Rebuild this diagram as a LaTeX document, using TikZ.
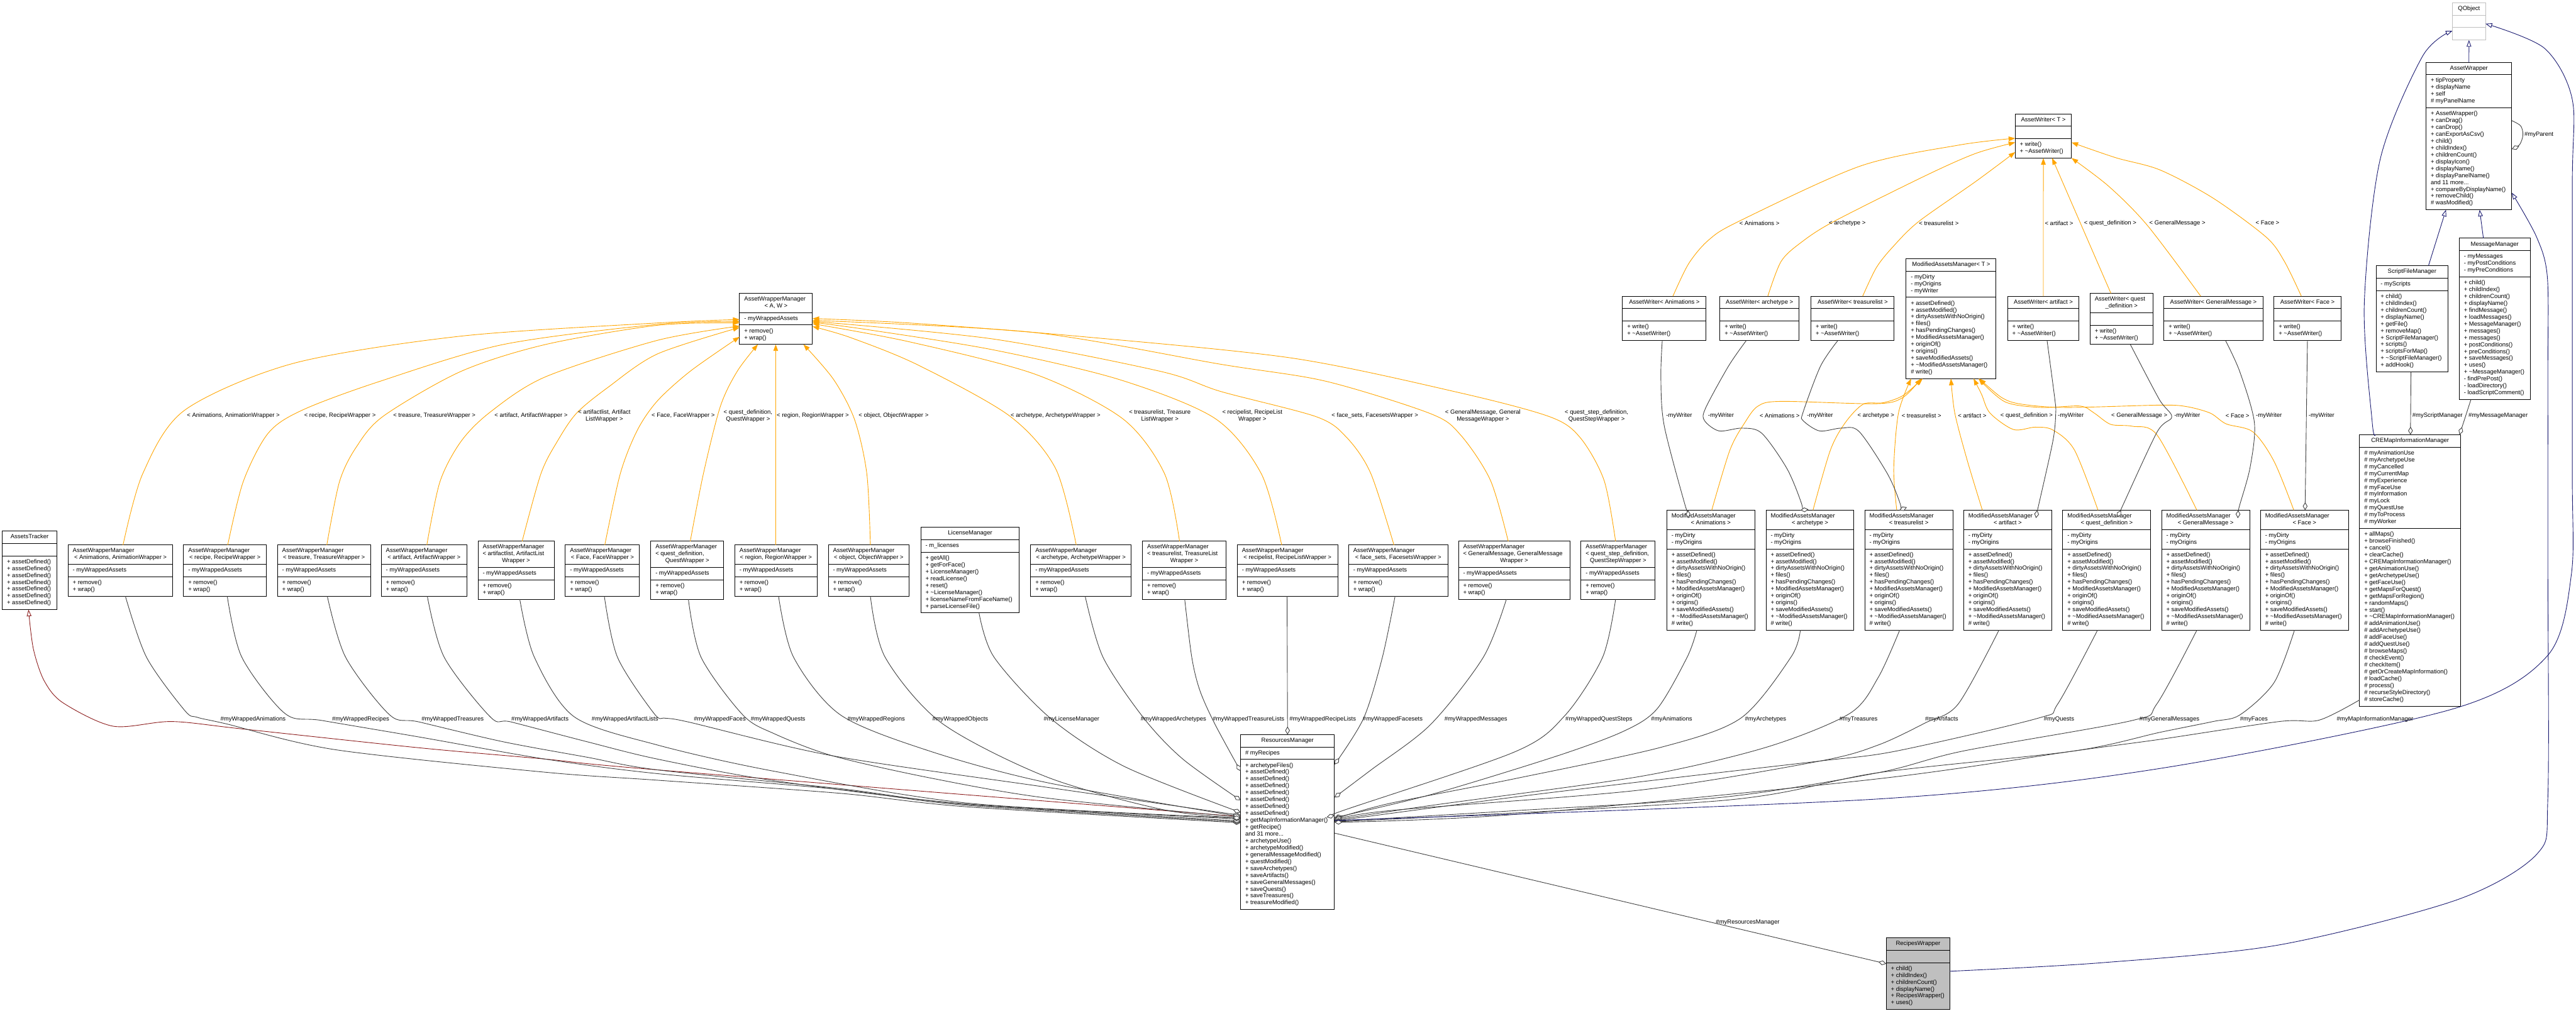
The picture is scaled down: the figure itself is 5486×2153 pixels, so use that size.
\documentclass[tikz,border=0pt]{standalone}
\usepackage{fontspec}
\setmainfont{Liberation Sans}
\usetikzlibrary{shapes.multipart,arrows.meta}
\definecolor{instorange}{HTML}{FFA500}
\definecolor{pubblue}{HTML}{191970}
\definecolor{protred}{HTML}{8B1A1A}
\definecolor{aggrgray}{HTML}{404040}
\definecolor{boxgray}{HTML}{BFBFBF}
\begin{document}
\begin{tikzpicture}[x=1pt,y=-1pt,
    umlbox/.style={draw=black,line width=1.3pt,rectangle split,rectangle split parts=3,
      inner xsep=10pt,inner ysep=5.3pt,outer sep=0pt,anchor=north west},
    extbox/.style={umlbox,draw=boxgray},
    focusbox/.style={umlbox,fill=boxgray},
    inst/.style={instorange,line width=1.2pt,-{Triangle[length=14pt,width=10pt]}},
    pub/.style={pubblue,line width=1.2pt,-{Triangle[open,length=14pt,width=10pt,fill=white]}},
    prot/.style={protred,line width=1.2pt,-{Triangle[open,length=14pt,width=10pt,fill=white]}},
    aggr/.style={aggrgray,line width=1.2pt,-{Diamond[open,length=17pt,width=10pt,fill=white]}},
    elabel/.style={font=\umlfont,inner sep=0pt,align=center}]
  \def\umlfont{\fontsize{12.75}{14.66}\selectfont}
  \def\headtxt{\umlfont\centering\leftskip=-10pt plus 1fil\rightskip=-10pt plus 1fil\relax\strut}
  \def\bodytxt{\umlfont\raggedright\rightskip=-10pt plus 1fil\relax\strut}
  \def\hl#1{\hspace*{10pt}#1\hfill\mbox{}\\}
  \def\tld{\textasciitilde}
  \def\umlclass#1#2#3#4#5#6#7#8{%
    \pgfmathsetmacro\boxw{#5-20}
    \node[#1,text width=\boxw pt] (#2) at (#3,#4)
      {\headtxt #6\strut\par\nodepart{two}\bodytxt #7\strut\par\nodepart{three}\bodytxt #8\strut\par};}
  \def\wrapclass#1#2#3#4#5{\umlclass{umlbox}{#1}{#2}{#3}{#4}{#5}{- myWrappedAssets}{+ remove()\\+ wrap()}}
  \def\writerclass#1#2#3#4#5{\umlclass{umlbox}{#1}{#2}{#3}{#4}{#5}{}{+ write()\\+ \tld AssetWriter()}}
  \def\modmethods{+ assetDefined()\\+ assetModified()\\+ dirtyAssetsWithNoOrigin()\\+ files()\\+ hasPendingChanges()\\+ ModifiedAssetsManager()\\+ originOf()\\+ origins()\\+ saveModifiedAssets()\\+ \tld ModifiedAssetsManager()\\\# write()}
  \def\modclass#1#2#3{\umlclass{umlbox}{#1}{#2}{1086.8}{187.3}{\hl{ModifiedAssetsManager}< #3 >}{- myDirty\\- myOrigins}{\modmethods}}
  \useasboundingbox (0,0) rectangle (5486,2153);

  % classes, left to right
  \umlclass{umlbox}{tracker}{5}{1131}{116}{AssetsTracker}{}{+ assetDefined()\\+ assetDefined()\\+ assetDefined()\\+ assetDefined()\\+ assetDefined()\\+ assetDefined()\\+ assetDefined()}
  \wrapclass{awm}{1575}{624.6}{155.4}{\hl{AssetWrapperManager}< A, W >}
  \wrapclass{awmAnim}{145}{1161}{223}{\hl{AssetWrapperManager}< Animations, AnimationWrapper >}
  \wrapclass{awmRec}{391}{1161}{176}{\hl{AssetWrapperManager}< recipe, RecipeWrapper >}
  \wrapclass{awmTrea}{591}{1161}{198}{\hl{AssetWrapperManager}< treasure, TreasureWrapper >}
  \wrapclass{awmArt}{812}{1161}{182}{\hl{AssetWrapperManager}< artifact, ArtifactWrapper >}
  \wrapclass{awmArtl}{1018}{1153}{162}{\hl{AssetWrapperManager}\hl{< artifactlist, ArtifactList}Wrapper >}
  \wrapclass{awmFace}{1204}{1161}{158}{\hl{AssetWrapperManager}< Face, FaceWrapper >}
  \wrapclass{awmQdef}{1386}{1153}{155}{\hl{AssetWrapperManager}\hl{< quest\_definition,}QuestWrapper >}
  \wrapclass{awmReg}{1565}{1161}{175}{\hl{AssetWrapperManager}< region, RegionWrapper >}
  \wrapclass{awmObj}{1764}{1161}{172}{\hl{AssetWrapperManager}< object, ObjectWrapper >}
  \umlclass{umlbox}{lic}{1961}{1123.5}{210}{LicenseManager}{- m\_licenses}{+ getAll()\\+ getForFace()\\+ LicenseManager()\\+ readLicense()\\+ reset()\\+ \tld LicenseManager()\\+ licenseNameFromFaceName()\\+ parseLicenseFile()}
  \wrapclass{awmArch}{2195}{1161}{214}{\hl{AssetWrapperManager}< archetype, ArchetypeWrapper >}
  \wrapclass{awmTlist}{2433}{1153}{178}{\hl{AssetWrapperManager}\hl{< treasurelist, TreasureList}Wrapper >}
  \wrapclass{awmRlist}{2635}{1161}{214}{\hl{AssetWrapperManager}< recipelist, RecipeListWrapper >}
  \wrapclass{awmFset}{2872}{1161}{211.5}{\hl{AssetWrapperManager}< face\_sets, FacesetsWrapper >}
  \wrapclass{awmGm}{3106}{1153}{237}{\hl{AssetWrapperManager}\hl{< GeneralMessage, GeneralMessage}Wrapper >}
  \wrapclass{awmQstep}{3367}{1153}{158}{\hl{AssetWrapperManager}\hl{< quest\_step\_definition,}QuestStepWrapper >}

  \writerclass{wrT}{4291.6}{242.4}{120}{AssetWriter< T >}
  \writerclass{wrAnim}{3455.4}{631}{178}{AssetWriter< Animations >}
  \writerclass{wrArch}{3663}{631}{168}{AssetWriter< archetype >}
  \writerclass{wrTlist}{3857}{631}{177}{AssetWriter< treasurelist >}
  \writerclass{wrArt}{4275.5}{631}{152}{AssetWriter< artifact >}
  \writerclass{wrQdef}{4451}{624.7}{134}{\hl{AssetWriter< quest}\_definition >}
  \writerclass{wrGm}{4608.5}{631}{210.5}{AssetWriter< GeneralMessage >}
  \writerclass{wrFace}{4843}{631}{142}{AssetWriter< Face >}

  \umlclass{umlbox}{mamT}{4059.4}{551}{191.6}{ModifiedAssetsManager< T >}{- myDirty\\- myOrigins\\- myWriter}{\modmethods}
  \modclass{mamAnim}{3549.7}{Animations}
  \modclass{mamArch}{3761}{archetype}
  \modclass{mamTlist}{3971.4}{treasurelist}
  \modclass{mamArt}{4182}{artifact}
  \modclass{mamQdef}{4393}{quest\_definition}
  \modclass{mamGm}{4603.5}{GeneralMessage}
  \modclass{mamFace}{4814}{Face}

  \umlclass{extbox}{qobj}{5222.7}{5.7}{70.6}{QObject}{}{}
  \umlclass{umlbox}{aw}{5166.7}{132.6}{182.5}{AssetWrapper}{+ tipProperty\\+ displayName\\+ self\\\# myPanelName}{+ AssetWrapper()\\+ canDrag()\\+ canDrop()\\+ canExportAsCsv()\\+ child()\\+ childIndex()\\+ childrenCount()\\+ displayIcon()\\+ displayName()\\+ displayPanelName()\\and 11 more...\\+ compareByDisplayName()\\+ removeChild()\\\# wasModified()}
  \umlclass{umlbox}{script}{5060}{566}{153.6}{ScriptFileManager}{- myScripts}{+ child()\\+ childIndex()\\+ childrenCount()\\+ displayName()\\+ getFile()\\+ removeMap()\\+ ScriptFileManager()\\+ scripts()\\+ scriptsForMap()\\+ \tld ScriptFileManager()\\+ addHook()}
  \umlclass{umlbox}{msg}{5237.4}{507.5}{150.8}{MessageManager}{- myMessages\\- myPostConditions\\- myPreConditions}{+ child()\\+ childIndex()\\+ childrenCount()\\+ displayName()\\+ findMessage()\\+ loadMessages()\\+ MessageManager()\\+ messages()\\+ messages()\\+ postConditions()\\+ preConditions()\\+ saveMessages()\\+ uses()\\+ \tld MessageManager()\\- findPrePost()\\- loadDirectory()\\- loadScriptComment()}
  \umlclass{umlbox}{cre}{5025}{926}{215.2}{CREMapInformationManager}{\# myAnimationUse\\\# myArchetypeUse\\\# myCancelled\\\# myCurrentMap\\\# myExperience\\\# myFaceUse\\\# myInformation\\\# myLock\\\# myQuestUse\\\# myToProcess\\\# myWorker}{+ allMaps()\\+ browseFinished()\\+ cancel()\\+ clearCache()\\+ CREMapInformationManager()\\+ getAnimationUse()\\+ getArchetypeUse()\\+ getFaceUse()\\+ getMapsForQuest()\\+ getMapsForRegion()\\+ randomMaps()\\+ start()\\+ \tld CREMapInformationManager()\\\# addAnimationUse()\\\# addArchetypeUse()\\\# addFaceUse()\\\# addQuestUse()\\\# browseMaps()\\\# checkEvent()\\\# checkItem()\\\# getOrCreateMapInformation()\\\# loadCache()\\\# process()\\\# recurseStyleDirectory()\\\# storeCache()}
  \umlclass{umlbox}{rm}{2642}{1564.7}{200}{ResourcesManager}{\# myRecipes}{+ archetypeFiles()\\+ assetDefined()\\+ assetDefined()\\+ assetDefined()\\+ assetDefined()\\+ assetDefined()\\+ assetDefined()\\+ assetDefined()\\+ getMapInformationManager()\\+ getRecipe()\\and 31 more...\\+ archetypeUse()\\+ archetypeModified()\\+ generalMessageModified()\\+ questModified()\\+ saveArchetypes()\\+ saveArtifacts()\\+ saveGeneralMessages()\\+ saveQuests()\\+ saveTreasures()\\+ treasureModified()}
  \umlclass{focusbox}{rw}{4017}{1997.5}{135.6}{RecipesWrapper}{}{+ child()\\+ childIndex()\\+ childrenCount()\\+ displayName()\\+ RecipesWrapper()\\+ uses()}

  % instances of AssetWrapperManager
  \draw[inst] plot[smooth] coordinates {([xshift=117]awmAnim.north west) (304,1009) (393,874) (625,774) (982,716) (1400,688) ([yshift=-56]awm.north west)};
  \draw[inst] plot[smooth] coordinates {([xshift=94]awmRec.north west) (518,1026) (571,923) (643,874) (804,814) (1071,734) (1400,691) ([yshift=-60]awm.north west)};
  \draw[inst] plot[smooth] coordinates {([xshift=105]awmTrea.north west) (723,1026) (759,952) (817,886) (982,791) (1161,734) (1400,693) ([yshift=-63]awm.north west)};
  \draw[inst] plot[smooth] coordinates {([xshift=97]awmArt.north west) (937,1026) (982,940) (1045,877) (1161,803) (1400,725) ([yshift=-70]awm.north west)};
  \draw[inst] plot[smooth] coordinates {([xshift=94]awmArtl.north west) (1152,1009) (1187,940) (1228,880) (1295,825) (1400,754) ([yshift=-73]awm.north west)};
  \draw[inst] plot[smooth] coordinates {([xshift=84]awmFace.north west) (1321,1009) (1357,917) (1400,854) (1471,790) ([yshift=-93]awm.north west)};
  \draw[inst] plot[smooth] coordinates {([xshift=84]awmQdef.north west) (1498,1009) (1534,866) (1570,791) ([xshift=39]awm.south west)};
  \draw[inst] ([xshift=87]awmReg.north west) -- ([xshift=77]awm.south west);
  \draw[inst] plot[smooth] coordinates {([xshift=89.6]awmObj.north west) (1846,1009) (1820,894) (1775,808) ([xshift=136]awm.south west)};
  \draw[inst] plot[smooth] coordinates {([xshift=97]awmArch.north west) (2248,998) (2150,886) (1954,777) (1811,719) ([yshift=-71]awm.north east)};
  \draw[inst] plot[smooth] coordinates {([xshift=79]awmTlist.north west) (2480,1009) (2391,892) (2204,797) (1936,728) ([yshift=-65]awm.north east)};
  \draw[inst] plot[smooth] coordinates {([xshift=94.5]awmRlist.north west) (2686,1009) (2587,891) (2382,808) (2114,745) (1846,702) ([yshift=-62]awm.north east)};
  \draw[inst] plot[smooth] coordinates {([xshift=96.6]awmFset.north west) (2919,1008) (2868,932) (2804,888) (2600,834) (2471,791) (2114,722) ([yshift=-60]awm.north east)};
  \draw[inst] plot[smooth] coordinates {([xshift=106]awmGm.north west) (3174,1023) (3110,926) (3046,881) (2823,812) (2600,776) (2200,708) ([yshift=-58]awm.north east)};
  \draw[inst] plot[smooth] coordinates {([xshift=73.6]awmQstep.north west) (3416,1023) (3365,932) (3301,888) (3110,837) (2753,763) (2293,716) (1936,688) ([yshift=-54]awm.north east)};

  % instances of AssetWriter
  \draw[inst] plot[smooth] coordinates {([xshift=107.3]wrAnim.north west) (3596,562) (3638,512) (3702,472) (3961,354) (4172,309) ([yshift=-52.2]wrT.north west)};
  \draw[inst] plot[smooth] coordinates {([xshift=101.8]wrArch.north west) (3793,557) (3835,517) (3905,472) (4101,374) (4207,327) ([yshift=-61]wrT.north west)};
  \draw[inst] plot[smooth] coordinates {([xshift=109.8]wrTlist.north west) (3996,570) (4031,526) (4086,472) (4207,387) ([yshift=-81.6]wrT.north west)};
  \draw[inst] (wrArt.north) -- (wrT.south);
  \draw[inst] ([xshift=44.4]wrQdef.north west) -- ([xshift=78.7]wrT.south west);
  \draw[inst] plot[smooth] coordinates {([xshift=78.3]wrGm.north west) (4573,480) (4491,397) (wrT.south east)};
  \draw[inst] plot[smooth] coordinates {([xshift=58]wrFace.north west) (4865,557) (4826,505) (4713,422) (4600,362) (4506,336) ([yshift=-61]wrT.north east)};

  % instances of ModifiedAssetsManager
  \draw[inst] plot[smooth] coordinates {([xshift=95.7]mamAnim.north west) (3684,959) (3716,900) (3744,865) (3793,855) (3996,860) (4052,847) ([xshift=31.6]mamT.south west)};
  \draw[inst] plot[smooth] coordinates {([xshift=100]mamArch.north west) (3898,959) (3930,900) (3968,861) (4010,858) (4052,843) ([xshift=35]mamT.south west)};
  \draw[inst] plot[smooth] coordinates {([xshift=68]mamTlist.north west) (4033,999) (4043,880) ([xshift=10.6]mamT.south west)};
  \draw[inst] plot[smooth] coordinates {([xshift=39.7]mamArt.north west) (4189,979) (4163,880) ([xshift=95.4]mamT.south west)};
  \draw[inst] plot[smooth] coordinates {([xshift=75]mamQdef.north west) (4418,959) (4372,916) (4334,910) (4288,915) (4238,880) (4220,840) ([xshift=143.6]mamT.south west)};
  \draw[inst] plot[smooth] coordinates {([xshift=75]mamGm.north west) (4594,927) (4541,908) (4495,904) (4460,880) (4430,865) (4347,868) (4270,856) ([xshift=154.3]mamT.south west)};
  \draw[inst] plot[smooth] coordinates {([xshift=71]mamFace.north west) (4843,983) (4798,920) (4741,903) (4707,880) (4656,866) (4600,863) (4400,868) (4305,861) (4263,847) ([xshift=156]mamT.south west)};

  % writers held by the modified assets managers
  \draw[aggr] plot[smooth] coordinates {([xshift=84.6]wrAnim.south west) (3537,804) (3544,906) (3588,1074) ([xshift=45.3]mamAnim.north west)};
  \draw[aggr] plot[smooth] coordinates {([xshift=56]wrArch.south west) (3681,780) (3632,870) (3630,896) (3661,918) (3710,912) (3752,923) (3806,999) (3837,1074) ([xshift=73.4]mamArch.north west)};
  \draw[aggr] plot[smooth] coordinates {([xshift=57]wrTlist.south west) (3877,780) (3840,878) (3840,896) (3875,918) (3921,912) (3959,919) (4020,1010) (4047,1074) ([xshift=73.6]mamTlist.north west)};
  \draw[aggr] plot[smooth] coordinates {([xshift=84]wrArt.south west) (4376,850) (4378,880) (4372,939) (4342,1074) ([xshift=156.7]mamArt.north west)};
  \draw[aggr] plot[smooth] coordinates {([xshift=85.8]wrQdef.south west) (4598,850) (4625,888) (4594,920) (4522,1074) ([xshift=124]mamQdef.north west)};
  \draw[aggr] plot[smooth] coordinates {([xshift=131]wrGm.south west) (4770,792) (4801,900) (4792,995) (4770,1075) ([xshift=163]mamGm.north west)};
  \draw[aggr] (wrFace.south) -- ([xshift=95]mamFace.north west);

  % map manager and its parts
  \draw[pub] (aw.north) -- (qobj.south);
  \draw[pub] ([xshift=111.8]script.north west) -- ([xshift=42.3]aw.south west);
  \draw[pub] ([xshift=51.3]msg.north west) -- ([xshift=114]aw.south west);
  \draw[pub] plot[smooth] coordinates {([xshift=33.8]cre.north west) (5052,900) (5035,649) (5069,339) (5159,120) ([yshift=-60]qobj.north west)};
  \draw[aggr] ([xshift=74.5]script.south west) -- ([xshift=108.4]cre.north west);
  \draw[aggr] ([xshift=24.8]msg.south west) -- ([xshift=213]cre.north west);
  \draw[aggr] plot[smooth] coordinates {([yshift=-124.4]aw.north east) (5368,268) (5373,287) (5366,308) ([yshift=-185]aw.north east)};

  % members of the resources manager, left side
  \draw[prot] plot[smooth] coordinates {([yshift=-175]rm.north west) (1400,1640) (1161,1617) (893,1593) (518,1553) (366,1537) (241,1547) (134,1497) (94,1450) (71,1382) ([xshift=55.7]tracker.south west)};
  \draw[aggr] plot[smooth] coordinates {([xshift=122]awmAnim.south west) (312,1400) (393,1513) (420,1528) (482,1542) (714,1597) (1161,1645) (1400,1662) (1790,1690) (2063,1719) ([yshift=-188]rm.north west)};
  \draw[aggr] plot[smooth] coordinates {([xshift=93]awmRec.south west) (515,1400) (607,1520) (687,1535) (893,1570) (1161,1617) (1400,1648) (1790,1682) (2063,1716) ([yshift=-186]rm.north west)};
  \draw[aggr] plot[smooth] coordinates {([xshift=106]awmTrea.south west) (736,1400) (830,1523) (893,1538) (1071,1580) (1250,1613) (1400,1640) (1790,1680) (2063,1714) ([yshift=-184]rm.north west)};
  \draw[aggr] plot[smooth] coordinates {([xshift=98]awmArt.south west) (946,1400) (1045,1528) (1089,1538) (1250,1580) (1400,1617) (1649,1663) (2063,1713) ([yshift=-180]rm.north west)};
  \draw[aggr] plot[smooth] coordinates {([xshift=89]awmArtl.south west) (1138,1400) (1223,1527) (1400,1587) (1649,1643) (2063,1711) ([yshift=-178]rm.north west)};
  \draw[aggr] plot[smooth] coordinates {([xshift=83]awmFace.south west) (1315,1400) (1393,1520) (1417,1530) (1466,1538) (1773,1610) (2229,1677) ([yshift=-172]rm.north west)};
  \draw[aggr] plot[smooth] coordinates {([xshift=80]awmQdef.south west) (1493,1400) (1582,1523) (1649,1563) (1773,1610) (1980,1657) (2229,1700) ([yshift=-176]rm.north west)};
  \draw[aggr] plot[smooth] coordinates {([xshift=93]awmReg.south west) (1690,1400) (1790,1523) (1980,1600) (2229,1667) ([yshift=-175]rm.north west)};
  \draw[aggr] plot[smooth] coordinates {([xshift=89.6]awmObj.south west) (1885,1400) (2005,1540) (2229,1655) (2478,1725) ([yshift=-178]rm.north west)};
  \draw[aggr] plot[smooth] coordinates {([xshift=124]lic.south west) (2117,1400) (2237,1530) (2395,1633) ([yshift=-166]rm.north west)};
  \draw[aggr] plot[smooth] coordinates {([xshift=116]awmArch.south west) (2349,1400) (2436,1530) (2519,1617) ([yshift=-140]rm.north west)};
  \draw[aggr] plot[smooth] coordinates {([xshift=90]awmTlist.south west) (2538,1400) (2555,1470) (2586,1540) ([yshift=-78]rm.north west)};
  \draw[aggr] ([xshift=106]awmRlist.south west) -- (rm.north);

  % members of the resources manager, right side
  \draw[aggr] plot[smooth] coordinates {([xshift=99]awmFset.south west) (2944,1400) (2904,1530) ([yshift=-64]rm.north east)};
  \draw[aggr] plot[smooth] coordinates {([xshift=102]awmGm.south west) (3159,1400) (3046,1544) (2920,1640) ([yshift=-134]rm.north east)};
  \draw[aggr] plot[smooth] coordinates {([xshift=73.6]awmQstep.south west) (3413,1400) (3332,1525) (3225,1602) (2859,1727) ([yshift=-172]rm.north east)};
  \draw[aggr] plot[smooth] coordinates {([xshift=64]mamAnim.south west) (3593,1400) (3529,1510) (3457,1558) (3314,1611) (3046,1693) ([yshift=-177]rm.north east)};
  \draw[aggr] plot[smooth] coordinates {([xshift=73]mamArch.south west) (3814,1400) (3707,1530) (3537,1592) (3225,1659) (2957,1712) ([yshift=-180]rm.north east)};
  \draw[aggr] plot[smooth] coordinates {([xshift=74.2]mamTlist.south west) (4000,1443) (3939,1520) (3761,1592) (3493,1654) (3046,1716) ([yshift=-182]rm.north east)};
  \draw[aggr] plot[smooth] coordinates {([xshift=75]mamArt.south west) (4170,1500) (4100,1540) (4000,1587) (3877,1621) (3493,1683) (2957,1727) ([yshift=-183]rm.north east)};
  \draw[aggr] plot[smooth] coordinates {([xshift=74]mamQdef.south west) (4382,1500) (4340,1530) (4038,1600) (3877,1621) (3582,1655) (3225,1698) ([yshift=-184]rm.north east)};
  \draw[aggr] plot[smooth] coordinates {([xshift=75]mamGm.south west) (4593,1500) (4540,1535) (4180,1600) (4000,1646) (3671,1698) (3225,1727) ([yshift=-185]rm.north east)};
  \draw[aggr] plot[smooth] coordinates {([xshift=72.4]mamFace.south west) (4843,1454) (4770,1523) (4713,1537) (4600,1560) (4415,1600) (4000,1646) (3671,1705) ([yshift=-186]rm.north east)};
  \draw[aggr] plot[smooth] coordinates {([yshift=-565]cre.north west) (4939,1534) (4854,1537) (4600,1575) (4415,1600) (4000,1659) (3225,1735) ([yshift=-187]rm.north east)};
  \draw[pub] plot[smooth] coordinates {([yshift=-183]rm.north east) (4000,1702) (4600,1637) (5221,1511) (5425,1397) (5476,1224) (5478,1000) (5478,400) (5478,212) (5419,103) ([yshift=-44.8]qobj.north east)};

  % the wrapper itself
  \draw[aggr] ([yshift=-210]rm.north east) -- ([yshift=-55.5]rw.north west);
  \draw[pub] plot[smooth] coordinates {([yshift=-71.5]rw.north east) (4474,2051) (4853,2013) (5232,1917) (5403,1819) (5426,1700) (5426,1200) (5426,800) (5425,591) (5402,505) ([yshift=-278]aw.north east)};

  % labels on the instance arrows
  \node[elabel] (lbAwmAnim) at (497,886) {< Animations, AnimationWrapper >};
  \node[elabel] (lbAwmRec) at (724,886) {< recipe, RecipeWrapper >};
  \node[elabel] (lbAwmTrea) at (925,886) {< treasure, TreasureWrapper >};
  \node[elabel] (lbAwmArt) at (1131,886) {< artifact, ArtifactWrapper >};
  \node[elabel] (lbAwmArtl) at (1287,886) {< artifactlist, Artifact\\ListWrapper >};
  \node[elabel] (lbAwmFace) at (1455,886) {< Face, FaceWrapper >};
  \node[elabel] (lbAwmQdef) at (1593,886) {< quest\_definition,\\QuestWrapper >};
  \node[elabel] (lbAwmReg) at (1731,886) {< region, RegionWrapper >};
  \node[elabel] (lbAwmObj) at (1903,886) {< object, ObjectWrapper >};
  \node[elabel] (lbAwmArch) at (2248,886) {< archetype, ArchetypeWrapper >};
  \node[elabel] (lbAwmTlist) at (2470,886) {< treasurelist, Treasure\\ListWrapper >};
  \node[elabel] (lbAwmRlist) at (2667,886) {< recipelist, RecipeList\\Wrapper >};
  \node[elabel] (lbAwmFset) at (2928,886) {< face\_sets, FacesetsWrapper >};
  \node[elabel] (lbAwmGm) at (3158,886) {< GeneralMessage, General\\MessageWrapper >};
  \node[elabel] (lbAwmQstep) at (3400,886) {< quest\_step\_definition,\\QuestStepWrapper >};
  \node[elabel] (lbWrAnim) at (3747,475) {< Animations >};
  \node[elabel] (lbWrArch) at (3934,475) {< archetype >};
  \node[elabel] (lbWrTlist) at (4129,475) {< treasurelist >};
  \node[elabel] (lbWrArt) at (4385,475) {< artifact >};
  \node[elabel] (lbWrQdef) at (4494,475) {< quest\_definition >};
  \node[elabel] (lbWrGm) at (4637,475) {< GeneralMessage >};
  \node[elabel] (lbWrFace) at (4829,475) {< Face >};
  \node[elabel] (lbMamAnim) at (3790,886) {< Animations >};
  \node[elabel] (lbMamArch) at (3995,886) {< archetype >};
  \node[elabel] (lbMamTlist) at (4092,886) {< treasurelist >};
  \node[elabel] (lbMamArt) at (4200,886) {< artifact >};
  \node[elabel] (lbMamQdef) at (4316,886) {< quest\_definition >};
  \node[elabel] (lbMamGm) at (4556,886) {< GeneralMessage >};
  \node[elabel] (lbMamFace) at (4765,886) {< Face >};

  % labels on the member arrows
  \node[elabel] (lbWrtA) at (3576,886) {-myWriter};
  \node[elabel] (lbWrtB) at (3665,886) {-myWriter};
  \node[elabel] (lbWrtC) at (3876,886) {-myWriter};
  \node[elabel] (lbWrtD) at (4410,886) {-myWriter};
  \node[elabel] (lbWrtE) at (4658,886) {-myWriter};
  \node[elabel] (lbWrtF) at (4832,886) {-myWriter};
  \node[elabel] (lbWrtG) at (4944,886) {-myWriter};
  \node[elabel] (lbScript) at (5191,886) {\#myScriptManager};
  \node[elabel] (lbMsg) at (5320,886) {\#myMessageManager};
  \node[elabel] (lbParent) at (5407,287) {\#myParent};
  \node[elabel] (lbWAnim) at (539,1532) {\#myWrappedAnimations};
  \node[elabel] (lbWRec) at (768,1532) {\#myWrappedRecipes};
  \node[elabel] (lbWTrea) at (964,1532) {\#myWrappedTreasures};
  \node[elabel] (lbWArt) at (1150,1532) {\#myWrappedArtifacts};
  \node[elabel] (lbWArtl) at (1331,1532) {\#myWrappedArtifactLists};
  \node[elabel] (lbWFace) at (1533,1532) {\#myWrappedFaces};
  \node[elabel] (lbWQuest) at (1657,1532) {\#myWrappedQuests};
  \node[elabel] (lbWReg) at (1866,1532) {\#myWrappedRegions};
  \node[elabel] (lbWObj) at (2045,1532) {\#myWrappedObjects};
  \node[elabel] (lbLic) at (2282,1532) {\#myLicenseManager};
  \node[elabel] (lbWArch) at (2499,1532) {\#myWrappedArchetypes};
  \node[elabel] (lbWTlist) at (2659,1532) {\#myWrappedTreasureLists};
  \node[elabel] (lbWRlist) at (2817,1532) {\#myWrappedRecipeLists};
  \node[elabel] (lbWFset) at (2966,1532) {\#myWrappedFacesets};
  \node[elabel] (lbWMsg) at (3143,1532) {\#myWrappedMessages};
  \node[elabel] (lbWQstep) at (3405,1532) {\#myWrappedQuestSteps};
  \node[elabel] (lbMAnim) at (3560,1532) {\#myAnimations};
  \node[elabel] (lbMArch) at (3760,1532) {\#myArchetypes};
  \node[elabel] (lbMTrea) at (3958,1532) {\#myTreasures};
  \node[elabel] (lbMArt) at (4135,1532) {\#myArtifacts};
  \node[elabel] (lbMQuest) at (4385,1532) {\#myQuests};
  \node[elabel] (lbMGm) at (4620,1532) {\#myGeneralMessages};
  \node[elabel] (lbMFace) at (4800,1532) {\#myFaces};
  \node[elabel] (lbMap) at (5058,1532) {\#myMapInformationManager};
  \node[elabel] (lbRes) at (3722,1965) {\#myResourcesManager};
\end{tikzpicture}
\end{document}
